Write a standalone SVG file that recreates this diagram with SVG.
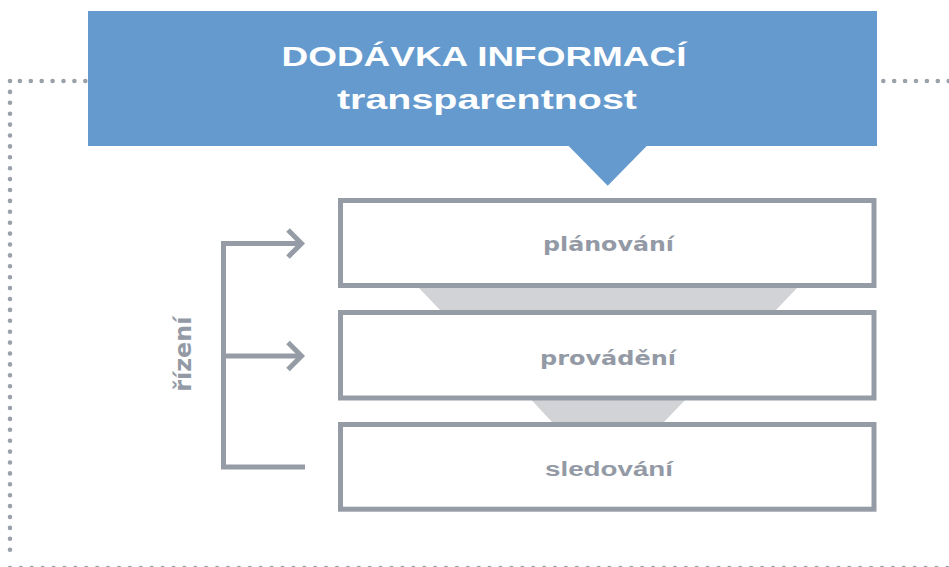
<svg xmlns="http://www.w3.org/2000/svg" width="949" height="567" viewBox="0 0 949 567">
  <style>
    .dots { fill: none; stroke: #9aa1ab; stroke-width: 4.6; stroke-linecap: round; stroke-dasharray: 0 10.9; }
    .box { fill: #ffffff; stroke: #959ca6; stroke-width: 5; }
    .trap { fill: #d1d3d6; }
    .conn { fill: none; stroke: #959ca6; stroke-width: 5; stroke-linejoin: miter; stroke-miterlimit: 10; }
    .lbl { fill: #939aa5; font-weight: bold; text-anchor: middle; }
    .title { fill: #ffffff; font-family: "Liberation Sans", Arial, sans-serif; font-weight: bold; font-size: 27px; text-anchor: middle; }
  </style>

  <!-- dotted frame -->
  <g id="frame">
    <path class="dots" d="M85.3,81 H10"/>
    <path class="dots" d="M10,81 V560"/>
    <path class="dots" d="M10,568 H949"/>
    <path class="dots" d="M883.3,81 H949"/>
  </g>

  <!-- header -->
  <g id="header">
    <rect x="88" y="11" width="789" height="135" fill="#659ace"/>
    <polygon points="567.7,145 647.7,145 607.7,185.7" fill="#659ace"/>
    <text class="title" x="484" y="66" textLength="405" lengthAdjust="spacingAndGlyphs">DODÁVKA INFORMACÍ</text>
    <text class="title" x="487" y="109" textLength="300" lengthAdjust="spacingAndGlyphs">transparentnost</text>
  </g>

  <!-- funnel connectors between boxes -->
  <g id="funnels">
    <polygon class="trap" points="419,288 797,288 776,310 440,310"/>
    <polygon class="trap" points="531.5,400 685,400 664,422 552,422"/>
  </g>

  <g id="planovani">
    <rect class="box" x="340.5" y="200.5" width="533.5" height="85"/>
    <text class="lbl" x="608.5" y="251" font-family="'DejaVu Sans', sans-serif" font-size="20" textLength="131" lengthAdjust="spacingAndGlyphs">plánování</text>
  </g>

  <g id="provadeni">
    <rect class="box" x="340.5" y="312.5" width="533.5" height="85.5"/>
    <text class="lbl" x="608" y="364.5" font-family="'DejaVu Sans', sans-serif" font-size="20" textLength="136" lengthAdjust="spacingAndGlyphs">provádění</text>
  </g>

  <g id="sledovani">
    <rect class="box" x="340.5" y="424.5" width="533.5" height="84.7"/>
    <text class="lbl" x="609" y="475.7" font-family="'Liberation Sans', Arial, sans-serif" font-size="20" textLength="128" lengthAdjust="spacingAndGlyphs">sledování</text>
  </g>

  <!-- řízení bracket -->
  <g id="connectors">
    <path class="conn" d="M302,243.5 H223.5 V467 H305"/>
    <path class="conn" d="M223.5,356 H302"/>
    <polyline class="conn" points="288,230 301.5,243.5 288,257"/>
    <polyline class="conn" points="288,342.5 301.5,356 288,369.5"/>
  </g>

  <g id="rizeni">
    <text class="lbl" transform="translate(191,354.2) rotate(-90)" x="0" y="0" font-family="'DejaVu Sans', sans-serif" font-size="23" textLength="75" lengthAdjust="spacingAndGlyphs">řízení</text>
  </g>
</svg>
